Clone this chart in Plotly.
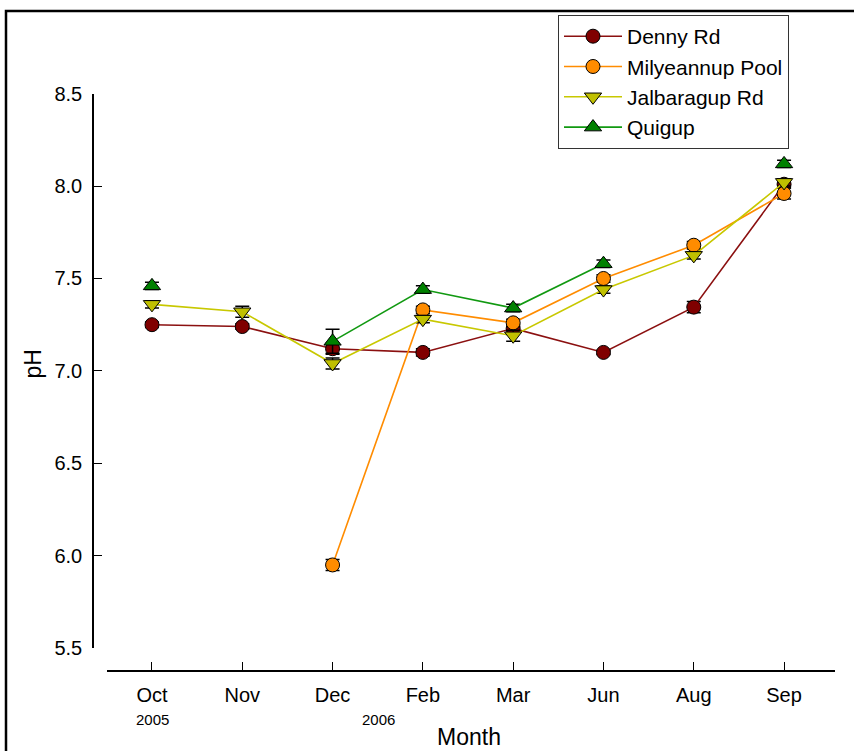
import plotly.graph_objects as go

months = ["Oct", "Nov", "Dec", "Feb", "Mar", "Jun", "Aug", "Sep"]
xpos = list(range(len(months)))

denny = [7.25, 7.24, 7.12, 7.10, 7.23, 7.10, 7.345, 8.01]
denny_err = [0.015, 0.015, 0.03, 0.02, 0.02, 0.012, 0.03, 0.02]
milye = [None, None, 5.95, 7.33, 7.26, 7.50, 7.68, 7.96]
milye_err = [0, 0, 0.03, 0.02, 0.02, 0.02, 0.02, 0.03]
jalba = [7.36, 7.32, 7.04, 7.28, 7.19, 7.44, 7.625, 8.02]
jalba_err = [0.02, 0.03, 0.03, 0.02, 0.03, 0.02, 0.02, 0.02]
quig = [7.46, None, 7.16, 7.44, 7.34, 7.58, None, 8.12]
quig_err = [0.02, 0, 0.065, 0.02, 0.02, 0.02, 0, 0.02]

series = [
    ("Denny Rd", denny, denny_err, "#8b1010", "#800000", "circle", 14),
    ("Milyeannup Pool", milye, milye_err, "#ff8c00", "#ff8c00", "circle", 14),
    ("Jalbaragup Rd", jalba, jalba_err, "#c8c800", "#c0c000", "triangle-down", 15),
    ("Quigup", quig, quig_err, "#119911", "#008000", "triangle-up", 15),
]

fig = go.Figure()
for name, vals, err, lc, mc, sym, sz in series:
    fig.add_trace(go.Scatter(
        x=xpos, y=vals, name=name, mode="lines+markers",
        line=dict(color=lc, width=1.6),
        marker=dict(symbol=sym, size=sz, color=mc, line=dict(color="black", width=1)),
        error_y=dict(type="data", array=err, visible=True, color="black", thickness=1.5, width=7),
        connectgaps=False,
    ))

W, H = 854, 751
L, R, T, B = 93, 14, 20, 80
pw, ph = W - L - R, H - T - B

def px(x):
    return (x - L) / pw

def py(y):
    return (H - B - y) / ph

font = "Liberation Sans, Arial, sans-serif"

fig.update_layout(
    width=W, height=H,
    margin=dict(l=L, r=R, t=T, b=B),
    plot_bgcolor="white", paper_bgcolor="white",
    font=dict(family=font, size=20, color="black"),
    showlegend=True,
    legend=dict(
        x=px(558), y=py(12), xanchor="left", yanchor="top",
        bordercolor="#333333", borderwidth=1, bgcolor="white",
        font=dict(size=21, family=font), itemwidth=58,
        tracegroupgap=0,
    ),
    xaxis=dict(
        domain=[px(107), px(835)],
        range=[-0.498, 7.564],
        tickvals=xpos, ticktext=months,
        showline=True, linecolor="black", linewidth=1.5,
        ticks="inside", ticklen=8, tickwidth=1, tickcolor="black",
        anchor="free", position=0,
        showgrid=False, zeroline=False,
        tickfont=dict(size=20, family=font),
        ticklabelstandoff=6,
    ),
    yaxis=dict(
        domain=[py(648), py(91)],
        range=[5.5, 8.5],
        tickvals=[5.5, 6.0, 6.5, 7.0, 7.5, 8.0, 8.5],
        ticktext=["5.5", "6.0", "6.5", "7.0", "7.5", "8.0", "8.5"],
        showline=True, linecolor="black", linewidth=1.5,
        ticks="inside", ticklen=8, tickwidth=1, tickcolor="black",
        anchor="free", position=0,
        showgrid=False, zeroline=False,
        tickfont=dict(size=20, family=font),
        ticklabelstandoff=6,
    ),
    shapes=[
        dict(type="rect", xref="paper", yref="paper",
             x0=px(6), x1=px(870), y0=py(770), y1=py(8),
             line=dict(color="black", width=2.5), fillcolor="rgba(0,0,0,0)", layer="above"),
    ],
    annotations=[
        dict(text="2005", x=px(152), y=py(720), xref="paper", yref="paper",
             showarrow=False, font=dict(size=15, family=font), xanchor="center", yanchor="middle"),
        dict(text="2006", x=px(378), y=py(720), xref="paper", yref="paper",
             showarrow=False, font=dict(size=15, family=font), xanchor="center", yanchor="middle"),
        dict(text="Month", x=px(469), y=py(737), xref="paper", yref="paper",
             showarrow=False, font=dict(size=23, family=font), xanchor="center", yanchor="middle"),
        dict(text="pH", x=px(33), y=py(363), xref="paper", yref="paper", textangle=-90,
             showarrow=False, font=dict(size=23, family=font), xanchor="center", yanchor="middle"),
    ],
)

fig.write_html("out.html", config={"displayModeBar": False},
               post_script="document.body.style.margin='0px';document.body.style.padding='0px';")
